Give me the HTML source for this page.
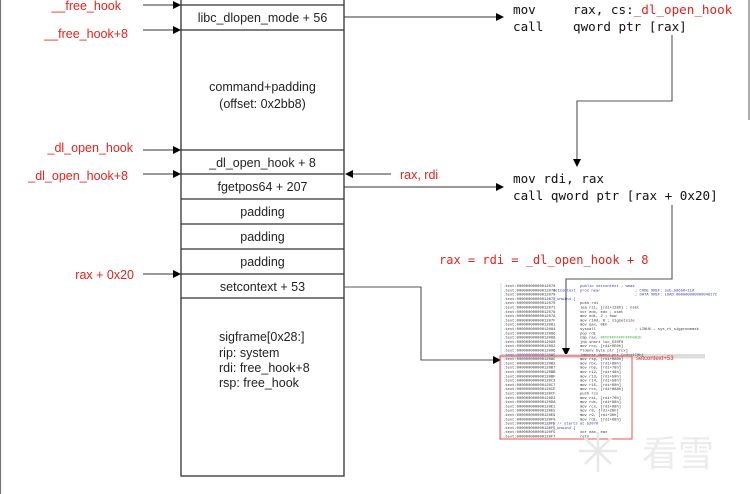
<!DOCTYPE html>
<html><head><meta charset="utf-8"><style>
html,body{margin:0;padding:0;background:#fff;}
svg{display:block;}
</style></head><body>
<svg width="750" height="494" viewBox="0 0 750 494" xmlns="http://www.w3.org/2000/svg">
<defs>
<marker id="ah" markerWidth="8" markerHeight="8" refX="7" refY="4" orient="auto" markerUnits="userSpaceOnUse">
<path d="M0,0 L8,4 L0,8 z" fill="#000"/></marker>
</defs>
<line x1="0.5" y1="0" x2="0.5" y2="494" stroke="#777" stroke-width="1.2"/>
<line x1="749" y1="0" x2="749" y2="120" stroke="#777" stroke-width="1.2"/>

<g stroke="#333" stroke-width="1.3" fill="none">
<rect x="181" y="-2" width="163" height="478"/>
<line x1="181" y1="5" x2="344" y2="5"/>
<line x1="181" y1="30" x2="344" y2="30"/>
<line x1="181" y1="150" x2="344" y2="150"/>
<line x1="181" y1="174" x2="344" y2="174"/>
<line x1="181" y1="199" x2="344" y2="199"/>
<line x1="181" y1="224" x2="344" y2="224"/>
<line x1="181" y1="249" x2="344" y2="249"/>
<line x1="181" y1="274" x2="344" y2="274"/>
<line x1="181" y1="298" x2="344" y2="298"/>
</g>
<g font-family="Liberation Sans, sans-serif" font-size="12.5" fill="#222" text-anchor="middle">
<text x="262.5" y="22">libc_dlopen_mode + 56</text>
<text x="262.5" y="91">command+padding</text>
<text x="262.5" y="108">(offset: 0x2bb8)</text>
<text x="262.5" y="167">_dl_open_hook + 8</text>
<text x="262.5" y="191">fgetpos64 + 207</text>
<text x="262.5" y="216">padding</text>
<text x="262.5" y="241">padding</text>
<text x="262.5" y="266">padding</text>
<text x="262.5" y="291">setcontext + 53</text>
</g>
<g font-family="Liberation Sans, sans-serif" font-size="12.5" fill="#222">
<text x="219" y="341">sigframe[0x28:]</text>
<text x="219" y="357">rip: system</text>
<text x="219" y="372">rdi: free_hook+8</text>
<text x="219" y="387">rsp: free_hook</text>
</g>

<g font-family="Liberation Sans, sans-serif" font-size="12.5" fill="#e8221e" text-anchor="end">
<text x="121" y="10">__free_hook</text>
<text x="128" y="38">__free_hook+8</text>
<text x="133" y="152">_dl_open_hook</text>
<text x="128" y="180">_dl_open_hook+8</text>
<text x="134" y="279">rax + 0x20</text>
</g>
<g stroke="#333" stroke-width="1.1" marker-end="url(#ah)">
<line x1="143" y1="5" x2="180" y2="5"/>
<line x1="143" y1="30" x2="180" y2="30"/>
<line x1="143" y1="150" x2="180" y2="150"/>
<line x1="143" y1="174" x2="180" y2="174"/>
<line x1="143" y1="274" x2="180" y2="274"/>
<line x1="391" y1="174" x2="346" y2="174"/>
<line x1="344" y1="17" x2="503" y2="17"/>
<line x1="344" y1="187" x2="503" y2="187"/>
</g>
<g stroke="#555" stroke-width="1.1" fill="none" marker-end="url(#ah)">
<polyline points="672,35 672,101 577,101 577,166"/>
<polyline points="672,205 672,279 566,279 566,355"/>
<polyline points="344,287 421,287 421,360 500,360"/>
</g>
<text x="400" y="179" font-family="Liberation Sans, sans-serif" font-size="12.5" fill="#e8221e">rax, rdi</text>

<g font-family="DejaVu Sans Mono, Liberation Mono, monospace" font-size="12.6" fill="#111">
<text x="513" y="14">mov</text><text x="573" y="14">rax, cs:<tspan fill="#e8221e">_dl_open_hook</tspan></text>
<text x="513" y="31">call</text><text x="573" y="31">qword ptr [rax]</text>
<text x="513" y="183">mov  rdi, rax</text>
<text x="513" y="200">call qword ptr [rax + 0x20]</text>
</g>
<text x="439" y="264" font-family="DejaVu Sans Mono, Liberation Mono, monospace" font-size="12" fill="#e8221e">rax = rdi = _dl_open_hook + 8</text>

<line x1="501" y1="283" x2="501" y2="440" stroke="#cde" stroke-width="1"/>
<rect x="500" y="354" width="205" height="4.5" fill="#ddd"/>
<g font-family="Liberation Mono, monospace" font-size="3.8" fill="#333">
<text x="503" y="287">.text:00000000000012070</text>
<text x="503" y="291.3">.text:00000000000012070</text>
<text x="503" y="295.6">.text:00000000000012070</text>
<text x="503" y="299.9">.text:00000000000012070</text>
<text x="503" y="304.2">.text:00000000000012070</text>
<text x="503" y="308.5">.text:00000000000012071</text>
<text x="503" y="312.8">.text:00000000000012078</text>
<text x="503" y="317.1">.text:0000000000001207A</text>
<text x="503" y="321.4">.text:0000000000001207F</text>
<text x="503" y="325.7">.text:00000000000012081</text>
<text x="503" y="330">.text:00000000000012084</text>
<text x="503" y="334.3">.text:00000000000012086</text>
<text x="503" y="338.6">.text:00000000000012088</text>
<text x="503" y="342.9">.text:00000000000012090</text>
<text x="503" y="347.2">.text:00000000000012092</text>
<text x="503" y="351.5">.text:00000000000012096</text>
<text x="503" y="355.8" fill="#33c">.text:000000000000120A5</text>
<text x="503" y="360.1">.text:000000000000120AC</text>
<text x="503" y="364.4">.text:000000000000120B3</text>
<text x="503" y="368.7">.text:000000000000120B7</text>
<text x="503" y="373">.text:000000000000120BB</text>
<text x="503" y="377.3">.text:000000000000120BF</text>
<text x="503" y="381.6">.text:000000000000120C3</text>
<text x="503" y="385.9">.text:000000000000120C7</text>
<text x="503" y="390.2">.text:000000000000120CE</text>
<text x="503" y="394.5">.text:000000000000120CF</text>
<text x="503" y="398.8">.text:000000000000120D3</text>
<text x="503" y="403.1">.text:000000000000120DA</text>
<text x="503" y="407.4">.text:000000000000120E1</text>
<text x="503" y="411.7">.text:000000000000120E5</text>
<text x="503" y="416">.text:000000000000120E9</text>
<text x="503" y="420.3">.text:000000000000120F0</text>
<text x="503" y="424.6">.text:000000000000120F5</text>
<text x="503" y="428.9">.text:000000000000120F5</text>
<text x="503" y="433.2">.text:000000000000120F5</text>
<text x="503" y="437.5">.text:000000000000120F7</text>
</g>
<g font-family="Liberation Mono, monospace" font-size="3.8" fill="#333">
<text x="580" y="287" fill="#33c">public setcontext ; weak</text>
<text x="553" y="291.3" fill="#33c">setcontext</text><text x="580" y="291.3" fill="#33c">proc near</text><text x="635" y="291.3" fill="#33c">; CODE XREF: sub_58650+11A</text>
<text x="635" y="295.6" fill="#33c">; DATA XREF: LOAD:00000000000004817C</text>
<text x="548" y="299.9" fill="#33c">; __unwind {</text>
<text x="580" y="304.2">push   rdi</text>
<text x="580" y="308.5">lea    rsi, [rdi+128h] ; nset</text>
<text x="580" y="312.8">xor    edx, edx     ; oset</text>
<text x="580" y="317.1">mov    edi, 2       ; how</text>
<text x="580" y="321.4">mov    r10d, 8      ; sigsetsize</text>
<text x="580" y="325.7">mov    eax, 0Eh</text>
<text x="580" y="330">syscall</text><text x="635" y="330">; LINUX - sys_rt_sigprocmask</text>
<text x="580" y="334.3">pop    rdi</text>
<text x="580" y="338.6">cmp    rax, <tspan fill="#2a2">0FFFFFFFFFFFFF001h</tspan></text>
<text x="580" y="342.9">jnb    short loc_520F0</text>
<text x="580" y="347.2">mov    rcx, [rdi+0E0h]</text>
<text x="580" y="351.5">fldenv byte ptr [rcx]</text>
<text x="580" y="355.8">ldmxcsr dword ptr [rdi+1C0h]</text>
<text x="580" y="360.1">mov    rsp, [rdi+0A0h]</text>
<text x="580" y="364.4">mov    rbx, [rdi+80h]</text>
<text x="580" y="368.7">mov    rbp, [rdi+78h]</text>
<text x="580" y="373">mov    r12, [rdi+48h]</text>
<text x="580" y="377.3">mov    r13, [rdi+50h]</text>
<text x="580" y="381.6">mov    r14, [rdi+58h]</text>
<text x="580" y="385.9">mov    r15, [rdi+60h]</text>
<text x="580" y="390.2">mov    rcx, [rdi+0A8h]</text>
<text x="580" y="394.5">push   rcx</text>
<text x="580" y="398.8">mov    rsi, [rdi+70h]</text>
<text x="580" y="403.1">mov    rdx, [rdi+88h]</text>
<text x="580" y="407.4">mov    rcx, [rdi+98h]</text>
<text x="580" y="411.7">mov    r8, [rdi+28h]</text>
<text x="580" y="416">mov    r9, [rdi+30h]</text>
<text x="580" y="420.3">mov    rdi, [rdi+68h]</text>
<text x="548" y="424.6" fill="#33c">; } // starts at 52070</text>
<text x="548" y="428.9" fill="#33c">; __unwind {</text>
<text x="580" y="433.2">xor    eax, eax</text>
<text x="580" y="437.5">retn</text>
</g>
<text x="636" y="360" font-family="Liberation Sans, sans-serif" font-size="6" fill="#e8221e">setcontext+53</text>
<rect x="500" y="356" width="132" height="83" fill="none" stroke="#f05050" stroke-width="1"/>

<g fill="none" stroke="#e8e8e8" stroke-width="2.5">
<path d="M585 438 l26 26 M611 438 l-26 26 M598 432 v40 M579 451 h38"/>
</g>
<text x="642" y="466" font-family="Noto Sans CJK SC, sans-serif" font-size="36" fill="#ececec">看雪</text>
</svg>
</body></html>
